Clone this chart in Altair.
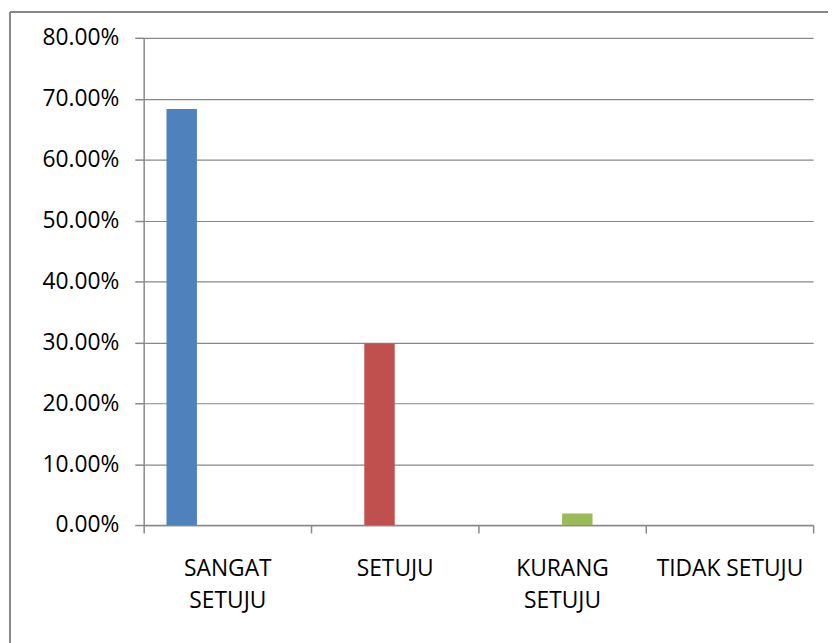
import altair as alt
import pandas as pd

categories = ["SANGAT SETUJU", "SETUJU", "KURANG SETUJU", "TIDAK SETUJU"]
values = [0.683, 0.298, 0.019, 0.0]
series = ["S1", "S2", "S3", "S4"]
colors = ["#4F81BD", "#C0504D", "#9BBB59", "#8064A2"]
y_ticks = [0, 0.1, 0.2, 0.3, 0.4, 0.5, 0.6, 0.7, 0.8]

df = pd.DataFrame({"cat": categories, "val": values, "ser": series})

label_expr = (
    "datum.value == 'SANGAT SETUJU' ? ['SANGAT', 'SETUJU'] : "
    "datum.value == 'KURANG SETUJU' ? ['KURANG', 'SETUJU'] : datum.value"
)

bars = alt.Chart(df).mark_bar().encode(
    x=alt.X(
        "cat:N",
        sort=categories,
        scale=alt.Scale(domain=categories, paddingInner=0, paddingOuter=0),
        axis=alt.Axis(
            title=None,
            labelAngle=0,
            labelExpr=label_expr,
            tickBand="extent",
            tickSize=8,
            labelPadding=25,
            labelLineHeight=32,
            labelBaseline="top",
            domainColor="#888888",
            tickColor="#888888",
            domainWidth=1.5,
            tickWidth=1.5,
            grid=False,
        ),
    ),
    xOffset=alt.XOffset(
        "ser:N",
        scale=alt.Scale(domain=series, paddingInner=0, paddingOuter=0.75),
    ),
    y=alt.Y(
        "val:Q",
        scale=alt.Scale(domain=[0, 0.8], nice=False),
        axis=alt.Axis(
            title=None,
            values=y_ticks,
            format=".2%",
            tickSize=9,
            labelPadding=16,
            domainColor="#888888",
            tickColor="#888888",
            gridColor="#888888",
            domainWidth=1.5,
            tickWidth=1.5,
            gridWidth=1.2,
        ),
    ),
    color=alt.Color(
        "ser:N", scale=alt.Scale(domain=series, range=colors), legend=None
    ),
)

border_df = pd.DataFrame({"a": [0]})
top_border = alt.Chart(border_df).mark_rule(color="#888888", strokeWidth=2, clip=False).encode(
    x=alt.value(-135), x2=alt.value(700), y=alt.value(-26)
)
left_border = alt.Chart(border_df).mark_rule(color="#888888", strokeWidth=2, clip=False).encode(
    x=alt.value(-135), y=alt.value(-26), y2=alt.value(620)
)

chart = (
    alt.layer(bars, top_border, left_border)
    .properties(
        width=676,
        height=492,
        autosize=alt.AutoSizeParams(type="none"),
        padding={"left": 137, "top": 27, "right": 15, "bottom": 116},
        background="white",
    )
    .configure_view(strokeWidth=0)
    .configure_axis(
        labelFont="Open Sans",
        labelFontSize=23,
        labelColor="#000000",
    )
)

chart.save("out.html", embed_options={"renderer": "svg", "actions": False})
